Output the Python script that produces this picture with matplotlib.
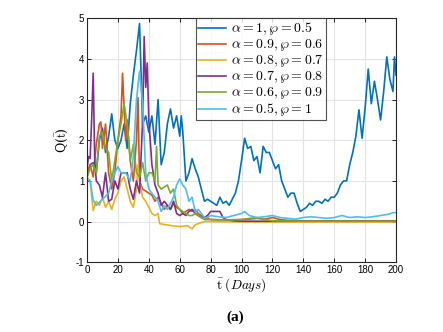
import matplotlib
matplotlib.use("Agg")
import matplotlib.pyplot as plt

plt.rcParams['font.family'] = ['Liberation Sans', 'DejaVu Sans']
plt.rcParams['mathtext.fontset'] = 'cm'
plt.rcParams['axes.unicode_minus'] = False

labels = [r'$\alpha=1,\wp=0.5$', r'$\alpha=0.9,\wp=0.6$', r'$\alpha=0.8,\wp=0.7$',
          r'$\alpha=0.7,\wp=0.8$', r'$\alpha=0.6,\wp=0.9$', r'$\alpha=0.5,\wp=1$']
colors = ['#0072BD', '#D95319', '#EDB120', '#7E2F8E', '#77AC30', '#4DBEEE']

t1 = [0, 2, 4, 6, 8, 10, 12, 14, 16, 18, 20, 22, 24, 26, 28, 30, 32, 34, 36, 38, 40, 42, 44, 46,
      48, 50, 52, 54, 56, 58, 60, 61, 62, 64, 66, 68, 70, 72, 74, 76, 78, 80, 82, 84, 86, 88, 90,
      92, 94, 96, 98, 100, 102, 104, 106, 108, 110, 112, 114, 116, 118, 120, 122, 124, 126, 128,
      130, 132, 134, 136, 138, 140, 142, 144, 146, 148, 150, 152, 154, 156, 158, 160, 162, 164,
      166, 168, 170, 172, 174, 176, 178, 180, 182, 184, 186, 188, 190, 192, 194, 196, 198, 199, 200]
v1 = [1.1, 1.4, 1.45, 1.2, 2.0, 2.3, 1.7, 2.1, 2.65, 2.0, 1.8, 2.0, 2.4, 1.8, 2.9, 3.6, 4.2, 4.87,
      2.4, 2.6, 2.2, 2.6, 1.9, 3.0, 1.4, 1.7, 2.4, 2.77, 2.3, 2.6, 2.1, 2.6, 2.2, 1.0, 1.2, 1.55,
      1.3, 1.1, 0.8, 0.5, 0.55, 0.5, 0.45, 0.4, 0.6, 0.45, 0.5, 0.4, 0.55, 0.7, 1.0, 1.5, 2.05,
      1.8, 1.85, 1.5, 1.6, 1.2, 1.85, 1.7, 1.7, 1.5, 1.3, 1.4, 1.0, 0.8, 0.6, 0.7, 0.7, 0.45,
      0.25, 0.3, 0.35, 0.45, 0.4, 0.5, 0.5, 0.45, 0.55, 0.5, 0.6, 0.6, 0.7, 0.9, 1.0, 1.0, 1.4,
      1.7, 2.1, 2.75, 2.05, 2.8, 3.75, 2.9, 3.45, 3.0, 2.5, 3.2, 4.05, 3.5, 3.2, 4.05, 3.6]

t2 = [0, 2, 4, 6, 8, 9, 10, 12, 14, 16, 18, 20, 22, 23, 24, 25, 26, 28, 30, 32, 33, 34, 36, 38,
      40, 42, 44, 46, 48, 50, 52, 54, 56, 58, 60, 62, 64, 66, 68, 70, 72, 74, 76, 80, 90, 100,
      105, 110, 115, 120, 125, 130, 140, 160, 180, 200]
v2 = [1.2, 1.4, 1.1, 1.9, 2.4, 2.45, 1.8, 2.4, 1.2, 0.8, 1.2, 2.0, 2.6, 3.65, 2.8, 2.0, 2.5,
      1.5, 1.0, 2.0, 3.05, 1.0, 0.8, 0.75, 0.7, 0.65, 0.5, 0.6, 0.45, 0.3, 0.4, 0.3, 0.45, 0.35,
      0.3, 0.2, 0.25, 0.3, 0.25, 0.3, 0.2, 0.15, 0.1, 0.05, 0.04, 0.05, 0.06, 0.08, 0.06, 0.1,
      0.05, 0.03, 0.02, 0.02, 0.02, 0.02]

t3 = [0, 2, 4, 6, 8, 10, 12, 14, 16, 18, 20, 22, 24, 26, 28, 30, 32, 33, 34, 36, 38, 40, 42, 44,
      46, 47, 50, 55, 60, 65, 68, 70, 72, 74, 76, 80, 100, 120, 140, 160, 180, 200]
v3 = [1.1, 1.0, 0.27, 0.5, 0.4, 0.6, 0.35, 0.5, 0.3, 0.55, 0.7, 1.0, 1.1, 0.8, 0.5, 0.35, 0.8,
      1.4, 1.0, 0.6, 0.5, 0.35, 0.2, 0.15, 0.2, -0.05, -0.07, -0.1, -0.12, -0.1, -0.18, -0.08,
      -0.05, -0.02, 0.0, 0.0, -0.01, -0.01, -0.01, -0.01, -0.01, -0.01]

t4 = [0, 1, 2, 3, 4, 5, 6, 8, 10, 12, 14, 16, 18, 20, 22, 24, 26, 28, 30, 32, 34, 36, 37, 38,
      39, 40, 42, 44, 46, 48, 50, 52, 54, 56, 58, 60, 62, 64, 66, 68, 70, 72, 74, 76, 78, 80, 82,
      84, 86, 88, 90, 95, 100, 120, 140, 160, 180, 200]
v4 = [1.3, 1.6, 1.55, 2.5, 3.65, 1.5, 1.0, 0.9, 0.6, 1.2, 0.5, 0.55, 1.0, 0.8, 1.2, 1.2, 1.2,
      0.8, 0.55, 1.0, 0.7, 2.5, 4.55, 3.3, 3.9, 2.5, 1.4, 0.9, 0.7, 0.4, 0.5, 0.4, 0.3, 0.5, 0.2,
      0.15, 0.2, 0.15, 0.25, 0.3, 0.2, 0.15, 0.1, 0.1, 0.15, 0.25, 0.25, 0.25, 0.25, 0.1, 0.05,
      0.02, 0.01, 0.01, 0.01, 0.01, 0.01, 0.01]

t5 = [0, 2, 4, 6, 8, 10, 12, 14, 16, 18, 20, 22, 24, 26, 28, 30, 32, 34, 36, 38, 40, 42, 44, 45,
      46, 48, 50, 52, 54, 56, 58, 60, 62, 64, 66, 68, 70, 72, 74, 76, 80, 90, 100, 105, 110,
      115, 120, 140, 160, 180, 200]
v5 = [1.1, 1.3, 1.4, 1.2, 2.1, 2.2, 1.8, 1.7, 1.0, 1.5, 2.0, 2.4, 2.9, 2.4, 1.5, 1.9, 1.2, 1.1,
      1.45, 1.0, 1.2, 1.2, 1.0, 1.85, 0.9, 0.8, 0.85, 0.9, 0.7, 0.8, 0.4, 0.3, 0.25, 0.2, 0.15,
      0.15, 0.2, 0.15, 0.1, 0.05, 0.05, 0.04, 0.05, 0.08, 0.1, 0.05, 0.02, 0.01, 0.01, 0.01, 0.01]

t6 = [0, 2, 4, 6, 10, 14, 16, 18, 20, 22, 25, 28, 30, 32, 34, 36, 38, 40, 42, 44, 46, 48, 50, 52,
      54, 56, 58, 60, 62, 64, 66, 68, 70, 72, 74, 76, 78, 80, 85, 90, 95, 100, 102, 105, 110,
      115, 120, 125, 130, 135, 140, 145, 150, 155, 160, 165, 170, 175, 180, 185, 190, 195, 198, 200]
v6 = [1.0, 1.02, 0.53, 0.4, 0.55, 0.7, 1.0, 1.2, 1.35, 1.2, 1.2, 1.0, 1.6, 3.0, 3.7, 2.9, 1.2,
      0.8, 0.7, 0.6, 0.5, 0.25, 0.4, 0.3, 0.45, 0.6, 0.9, 1.05, 0.9, 0.8, 0.5, 0.6, 0.25, 0.3,
      0.2, 0.1, 0.1, 0.15, 0.12, 0.1, 0.15, 0.2, 0.25, 0.15, 0.1, 0.12, 0.15, 0.1, 0.08, 0.06,
      0.1, 0.12, 0.1, 0.08, 0.1, 0.15, 0.1, 0.12, 0.1, 0.12, 0.15, 0.18, 0.22, 0.22]

ts = [t1, t2, t3, t4, t5, t6]
vs = [v1, v2, v3, v4, v5, v6]

fig = plt.figure(figsize=(4.43, 3.32), dpi=100)
ax = fig.add_axes([0.1964, 0.21, 0.6976, 0.735])
for t, v, c, l in zip(ts, vs, colors, labels):
    ax.plot(t, v, color=c, lw=1.2, label=l)

ax.set_xlim(0, 200)
ax.set_ylim(-1, 5)
ax.set_xticks(range(0, 201, 20))
ax.set_yticks(range(-1, 6))
ax.grid(True, color='#e3e3e3', lw=0.8)
ax.set_axisbelow(True)
ax.tick_params(direction='in', top=True, right=True, labelsize=7, length=3, width=0.6, pad=2)
for s in ax.spines.values():
    s.set_linewidth(0.8)
    s.set_color('#262626')

ax.set_ylabel(r'Q($\bar{\mathrm{t}}$)', fontsize=9, labelpad=4, family='DejaVu Serif')
ax.set_xlabel(r'$\bar{\mathrm{t}}\ (Days)$', fontsize=9.5, labelpad=1)

leg = ax.legend(loc='upper left', bbox_to_anchor=(196/443, 1 - 18.3/332),
                bbox_transform=fig.transFigure, fontsize=10, handlelength=2.0,
                frameon=True, fancybox=False, edgecolor='#262626', borderaxespad=0,
                borderpad=0.15, labelspacing=0.0, handletextpad=0.4, handleheight=0.6)
leg.get_frame().set_linewidth(0.8)

fig.text(235/443, 1 - 317/332, '(a)', ha='center', va='center', fontsize=11,
         fontweight='bold', family='Liberation Serif')

fig.savefig('out.png', dpi=100)
